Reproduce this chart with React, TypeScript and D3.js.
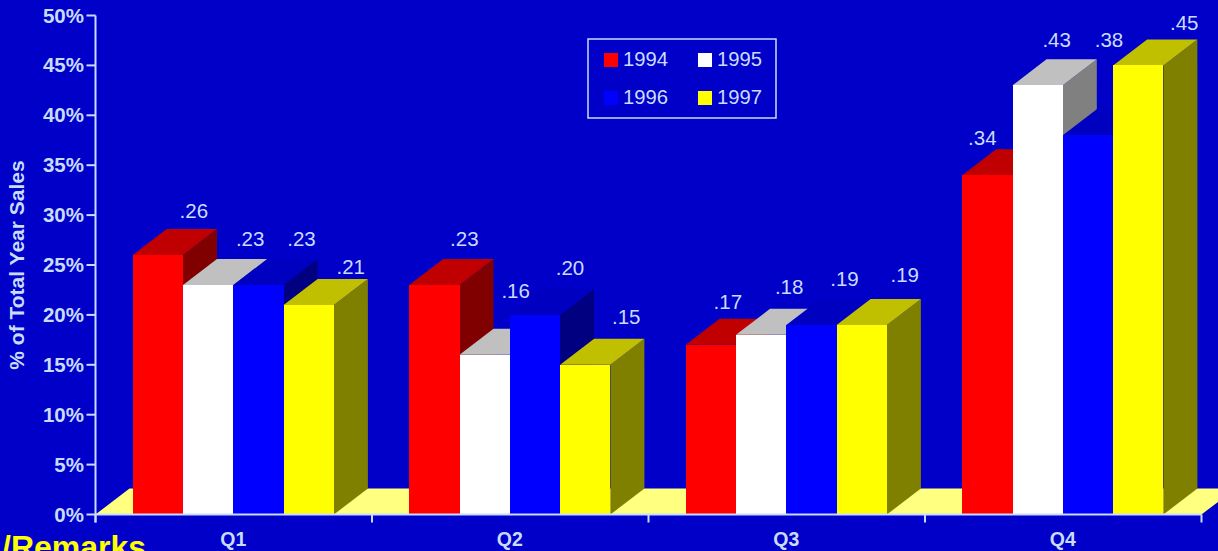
import React from "react";
import * as d3 from "d3";

const quarters = ["Q1", "Q2", "Q3", "Q4"];
const years = ["1994", "1995", "1996", "1997"];
const sales1994 = [0.26, 0.23, 0.17, 0.34];
const sales1995 = [0.23, 0.16, 0.18, 0.43];
const sales1996 = [0.23, 0.2, 0.19, 0.38];
const sales1997 = [0.21, 0.15, 0.19, 0.45];
const yTicks = [0, 0.05, 0.1, 0.15, 0.2, 0.25, 0.3, 0.35, 0.4, 0.45, 0.5];

const salesByYear = [sales1994, sales1995, sales1996, sales1997];

const faceColors = [
  { front: "#FF0000", top: "#C00000", side: "#800000" },
  { front: "#FFFFFF", top: "#C0C0C0", side: "#808080" },
  { front: "#0000FF", top: "#0000C0", side: "#000080" },
  { front: "#FFFF00", top: "#C0C000", side: "#808000" },
];

// Value labels are placed by hand around each column: [dx from column centre, baseline above rear top edge].
const labelNudges = [
  [[36, 11], [42, 13], [43, 13], [42, 5]],
  [[30, 13], [31, 31], [35, 14], [41, 15]],
  [[17, 10], [28, 15], [33, 13], [43, 17]],
  [[-5, 4], [19, 12], [21, 62], [46, 9]],
];

const W = 1218;
const H = 551;
const BG = "#0000C8";
const INK = "#C8DCFF";
const FONT = "'Liberation Sans', Arial, sans-serif";
const DX = 34;
const DY = -26;

const y = d3.scaleLinear().domain([0, 0.5]).range([514.5, 15.5]);
const xQuarter = d3.scaleBand<string>().domain(quarters).range([95.5, 1201.5]);
const xYear = d3.scaleBand<string>().domain(years).range([37.2, 238.4]);

const points = (pts: number[][]) => pts.map((p) => p.join(",")).join(" ");

function Column({ q, yi }: { q: number; yi: number }) {
  const v = salesByYear[yi][q];
  const x0 = xQuarter(quarters[q])! + xYear(years[yi])!;
  const bw = xYear.bandwidth();
  const x1 = x0 + bw;
  const yt = y(v);
  const yb = y(0);
  const c = faceColors[yi];
  return (
    <g>
      <polygon fill={c.side} points={points([[x1, yt], [x1 + DX, yt + DY], [x1 + DX, yb + DY], [x1, yb]])} />
      <polygon fill={c.top} points={points([[x0, yt], [x0 + DX, yt + DY], [x1 + DX, yt + DY], [x1, yt]])} />
      <rect x={x0} y={yt} width={bw} height={yb - yt} fill={c.front} shapeRendering="crispEdges" />
    </g>
  );
}

function ValueLabel({ q, yi }: { q: number; yi: number }) {
  const v = salesByYear[yi][q];
  const cx = xQuarter(quarters[q])! + xYear(years[yi])! + xYear.bandwidth() / 2;
  const [nx, ny] = labelNudges[q][yi];
  return (
    <text x={cx + nx} y={y(v) + DY - ny} textAnchor="middle" fontSize={20.5} fill={INK}>
      {d3.format(".2f")(v).replace(/^0/, "")}
    </text>
  );
}

const legendSlots = [
  { sx: 604, tx: 623, sy: 53, ty: 66 },
  { sx: 698, tx: 717, sy: 53, ty: 66 },
  { sx: 604, tx: 623, sy: 91, ty: 104 },
  { sx: 698, tx: 717, sy: 91, ty: 104 },
];

export default function App() {
  const yb = y(0);
  const right = xQuarter.range()[1];
  const left = xQuarter.range()[0];
  const edges = [...quarters.map((q) => xQuarter(q)!), right];
  return (
    <svg
      width={W}
      height={H}
      viewBox={`0 0 ${W} ${H}`}
      style={{ position: "absolute", left: 0, top: 0, display: "block", background: BG }}
      fontFamily={FONT}
    >
      {/* floor of the 3D plot */}
      <polygon
        fill="#FFFF80"
        points={points([[left, yb], [left + DX, yb + DY], [right + DX, yb + DY], [right, yb]])}
      />

      {quarters.map((_, q) => years.map((_, yi) => <Column key={`${q}-${yi}`} q={q} yi={yi} />))}

      {/* axes */}
      <g stroke={INK} strokeWidth={2} fill="none">
        <line x1={left} x2={left} y1={y(0.5)} y2={yb + 8} />
        <line x1={left} x2={right} y1={yb} y2={yb} />
        {yTicks.map((t) => (
          <line key={t} x1={left - 9} x2={left} y1={y(t)} y2={y(t)} />
        ))}
        {edges.map((e) => (
          <line key={e} x1={e} x2={e} y1={yb} y2={yb + 8} />
        ))}
      </g>

      <g fontWeight="bold" fontSize={20.5} fill={INK} textAnchor="end">
        {yTicks.map((t) => (
          <text key={t} x={84} y={y(t) + 7}>
            {d3.format(".0%")(t)}
          </text>
        ))}
      </g>

      <g fontWeight="bold" fontSize={19.5} fill={INK} textAnchor="middle">
        {quarters.map((q) => (
          <text key={q} x={xQuarter(q)! + xQuarter.bandwidth() / 2 - 0.5} y={546}>
            {q}
          </text>
        ))}
      </g>

      <text
        transform="translate(24,265) rotate(-90)"
        textAnchor="middle"
        fontWeight="bold"
        fontSize={21}
        fill={INK}
      >
        % of Total Year Sales
      </text>

      {quarters.map((_, q) => years.map((_, yi) => <ValueLabel key={`${q}-${yi}`} q={q} yi={yi} />))}

      {/* legend */}
      <rect x={588} y={39} width={188} height={79} fill="none" stroke={INK} strokeWidth={1.5} />
      {years.map((yr, i) => (
        <g key={yr}>
          <rect x={legendSlots[i].sx} y={legendSlots[i].sy} width={14} height={14} fill={faceColors[i].front} />
          <text x={legendSlots[i].tx} y={legendSlots[i].ty} fontSize={20.25} fill={INK}>
            {yr}
          </text>
        </g>
      ))}

      <text x={2} y={558} fontWeight="bold" fontSize={32} fill="#FFFF00">
        /Remarks
      </text>
    </svg>
  );
}
